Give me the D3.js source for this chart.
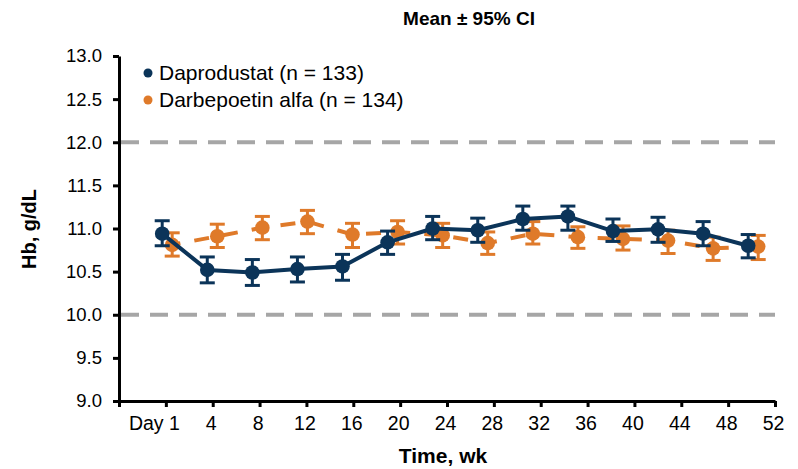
<!DOCTYPE html>
<html>
<head>
<meta charset="utf-8">
<script src="https://cdn.jsdelivr.net/npm/d3@7"></script>
<style>
  html, body { margin: 0; padding: 0; background: #fff; }
  svg { display: block; font-family: "Liberation Sans", Arial, sans-serif; }
</style>
</head>
<body>
<svg id="chart" width="798" height="469"></svg>
<script>
// Visit weeks (Day 1 plotted at week 0)
const weeks = [0, 4, 8, 12, 16, 20, 24, 28, 32, 36, 40, 44, 48, 52];
const xTickLabels = ["Day 1", "4", "8", "12", "16", "20", "24", "28", "32", "36", "40", "44", "48", "52"];
const yTicks = [9.0, 9.5, 10.0, 10.5, 11.0, 11.5, 12.0, 12.5, 13.0];
const refLines = [10.0, 12.0];

// Daprodustat: mean Hb and 95% CI bounds
const daproMean = [10.94, 10.52, 10.49, 10.53, 10.56, 10.84, 11.00, 10.98, 11.11, 11.14, 10.97, 10.99, 10.94, 10.80];
const daproLow  = [10.80, 10.37, 10.34, 10.38, 10.40, 10.70, 10.87, 10.84, 10.98, 10.98, 10.85, 10.84, 10.80, 10.66];
const daproHigh = [11.09, 10.67, 10.64, 10.67, 10.70, 10.97, 11.14, 11.12, 11.26, 11.26, 11.11, 11.13, 11.08, 10.93];

// Darbepoetin alfa: mean Hb and 95% CI bounds
const darbeMean = [10.81, 10.91, 11.01, 11.08, 10.93, 10.96, 10.92, 10.83, 10.94, 10.90, 10.88, 10.86, 10.77, 10.79];
const darbeLow  = [10.68, 10.78, 10.87, 10.94, 10.78, 10.82, 10.78, 10.70, 10.82, 10.77, 10.75, 10.71, 10.63, 10.64];
const darbeHigh = [10.95, 11.05, 11.14, 11.21, 11.06, 11.09, 11.06, 10.96, 11.08, 11.02, 11.03, 10.98, 10.90, 10.92];

const seriesNames = ["Daprodustat (n = 133)", "Darbepoetin alfa (n = 134)"];

const NAVY = "#0b3459";
const ORANGE = "#df7a2a";
const GRID = "#a6a6a6";

const svg = d3.select("#chart");

// Plot frame
const plotLeft = 119, plotRight = 775, plotTop = 56, plotBottom = 401;

const y = d3.scaleLinear().domain([9, 13]).range([plotBottom, plotTop]);
// Axis slots: one empty slot at the origin, then one per visit label
const xAxisScale = d3.scaleLinear().domain([0, xTickLabels.length]).range([plotLeft, plotRight]);
// Data positions by week, with a small horizontal dodge per series
const x = d3.scaleLinear().domain([0, 52]).range([167.2, 753.2]);
const dodge = { dapro: -5, darbe: 5 };

// Reference lines at the Hb target range
svg.append("g").selectAll("line").data(refLines).join("line")
  .attr("x1", plotLeft + 2).attr("x2", plotRight)
  .attr("y1", d => y(d)).attr("y2", d => y(d))
  .attr("stroke", GRID).attr("stroke-width", 4)
  .attr("stroke-dasharray", "18,11");

// Y axis
const yAxis = svg.append("g").attr("transform", `translate(${plotLeft},0)`)
  .call(d3.axisLeft(y).tickValues(yTicks).tickFormat(d3.format(".1f")).tickSize(6).tickSizeOuter(0));
yAxis.select(".domain").attr("stroke", "#000").attr("stroke-width", 3);
yAxis.selectAll(".tick line").attr("stroke", "#000").attr("stroke-width", 3);
yAxis.selectAll(".tick text").attr("font-size", 18.5).attr("fill", "#000")
  .attr("font-family", "Liberation Sans, Arial, sans-serif").attr("x", -17);

// X axis
const xAxis = svg.append("g").attr("transform", `translate(0,${plotBottom})`)
  .call(d3.axisBottom(xAxisScale).tickValues(d3.range(0, xTickLabels.length + 1))
    .tickFormat(i => i === 0 ? "" : xTickLabels[i - 1]).tickSize(6).tickSizeOuter(0));
xAxis.select(".domain").attr("stroke", "#000").attr("stroke-width", 3);
xAxis.selectAll(".tick line").attr("stroke", "#000").attr("stroke-width", 3);
xAxis.selectAll(".tick text").attr("font-size", 19.5).attr("fill", "#000")
  .attr("font-family", "Liberation Sans, Arial, sans-serif").attr("y", 15)
  .attr("dx", (d, i) => i === 1 ? -12 : -2);

// Series drawing
function drawSeries(key, mean, low, high, color, dashed) {
  const g = svg.append("g");
  const rows = weeks.map((w, i) => ({ w, m: mean[i], lo: low[i], hi: high[i] }));
  const px = d => x(d.w) + dodge[key];

  const line = d3.line().x(px).y(d => y(d.m));
  const path = g.append("path").datum(rows)
    .attr("fill", "none").attr("stroke", color).attr("stroke-width", 4)
    .attr("stroke-linejoin", "round").attr("d", line);
  if (dashed) path.attr("stroke-dasharray", "15,14.2").attr("stroke-dashoffset", 6.7);

  // 95% CI whiskers and caps
  const eb = g.append("g").attr("stroke", color).attr("stroke-width", 3);
  eb.selectAll(".v").data(rows).join("line")
    .attr("x1", px).attr("x2", px).attr("y1", d => y(d.lo)).attr("y2", d => y(d.hi));
  eb.selectAll(".capHi").data(rows).join("line")
    .attr("x1", d => px(d) - 7.5).attr("x2", d => px(d) + 7.5)
    .attr("y1", d => y(d.hi)).attr("y2", d => y(d.hi));
  eb.selectAll(".capLo").data(rows).join("line")
    .attr("x1", d => px(d) - 7.5).attr("x2", d => px(d) + 7.5)
    .attr("y1", d => y(d.lo)).attr("y2", d => y(d.lo));

  g.selectAll("circle").data(rows).join("circle")
    .attr("cx", px).attr("cy", d => y(d.m)).attr("r", 7.3).attr("fill", color);
}

drawSeries("darbe", darbeMean, darbeLow, darbeHigh, ORANGE, true);
drawSeries("dapro", daproMean, daproLow, daproHigh, NAVY, false);

// Legend
const legend = svg.append("g");
const legendItems = [{ name: seriesNames[0], color: NAVY }, { name: seriesNames[1], color: ORANGE }];
legendItems.forEach((it, i) => {
  const ly = 73 + i * 27;
  legend.append("circle").attr("cx", 148).attr("cy", ly).attr("r", 4.5).attr("fill", it.color);
  legend.append("text").attr("x", 159).attr("y", ly + 7).attr("font-size", 21).attr("fill", "#000").text(it.name);
});

// Titles
svg.append("text").attr("x", 469).attr("y", 25).attr("text-anchor", "middle")
  .attr("font-size", 19).attr("font-weight", "bold").text("Mean ± 95% CI");
svg.append("text").attr("x", 443).attr("y", 463).attr("text-anchor", "middle")
  .attr("font-size", 21).attr("font-weight", "bold").text("Time, wk");
svg.append("text").attr("transform", `translate(36,229) rotate(-90)`).attr("text-anchor", "middle")
  .attr("font-size", 20).attr("font-weight", "bold").text("Hb, g/dL");
</script>
</body>
</html>
